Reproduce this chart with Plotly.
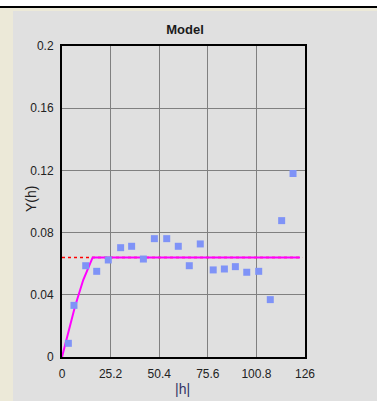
import plotly.graph_objects as go

# Empirical semivariogram: lag distance |h| and semivariance Y(h)
lag_h = [3.3, 6.2, 12.3, 18.0, 24.0, 30.4, 36.1, 42.2, 47.9, 54.3, 60.3,
         66.0, 71.7, 78.4, 84.2, 89.9, 95.8, 102.0, 108.0, 113.9, 119.8]
gamma = [0.0088, 0.0332, 0.0587, 0.0551, 0.0624, 0.0703, 0.0712, 0.0630,
         0.0761, 0.0761, 0.0712, 0.0587, 0.0727, 0.0560, 0.0566, 0.0581,
         0.0545, 0.0551, 0.0369, 0.0877, 0.1180]

# Fitted model curve
model_h = [0, 3.3, 6.7, 11.0, 15.9, 123.4]
model_y = [0, 0.0152, 0.0323, 0.0495, 0.0640, 0.0640]

# Sill reference
sill = 0.064
sill_h = [0, 124.5]

x_ticks = [0, 25.2, 50.4, 75.6, 100.8, 126]
x_tick_text = ["0", "25.2", "50.4", "75.6", "100.8", "126"]
y_ticks = [0, 0.04, 0.08, 0.12, 0.16, 0.2]
y_tick_text = ["0", "0.04", "0.08", "0.12", "0.16", "0.2"]

W, H = 377, 401
L, R, T, B = 62, 305, 46, 357
PW, PH = R - L, B - T


def px(x):
    return (x - L) / PW


def py(y):
    return (B - y) / PH


fig = go.Figure()

fig.add_trace(go.Scatter(
    x=sill_h, y=[sill, sill], mode="lines",
    line=dict(color="#ff0000", width=1.5, dash="3px,3px"),
    hoverinfo="skip", showlegend=False, cliponaxis=False,
))
fig.add_trace(go.Scatter(
    x=model_h, y=model_y, mode="lines",
    line=dict(color="#ff00ff", width=2),
    showlegend=False, cliponaxis=False,
))
fig.add_trace(go.Scatter(
    x=lag_h, y=gamma, mode="markers",
    marker=dict(symbol="square", size=7, color="#7f93f7"),
    showlegend=False,
))

shapes = [
    # light beige frame strip on the left and top
    dict(type="rect", xref="paper", yref="paper",
         x0=px(0), x1=px(W), y0=py(H), y1=py(8), fillcolor="#ece9d8",
         line_width=0, layer="below"),
    dict(type="rect", xref="paper", yref="paper",
         x0=px(13), x1=px(W), y0=py(H), y1=py(11), fillcolor="#e0e0e0",
         line_width=0, layer="below"),
    # white band and black rule across the top
    dict(type="rect", xref="paper", yref="paper",
         x0=px(0), x1=px(W), y0=py(6), y1=py(0), fillcolor="#ffffff",
         line_width=0, layer="below"),
    dict(type="rect", xref="paper", yref="paper",
         x0=px(0), x1=px(W), y0=py(8), y1=py(6), fillcolor="#000000",
         line_width=0, layer="below"),
]

font = "Liberation Sans, Arial, sans-serif"

annotations = [
    dict(text="Y(h)", xref="paper", yref="paper", x=px(31), y=py(199),
         xanchor="center", yanchor="middle", textangle=-90, showarrow=False,
         font=dict(family=font, size=14, color="#222222")),
    dict(text="|h|", xref="paper", yref="paper", x=px(182), y=py(389),
         xanchor="center", yanchor="middle", showarrow=False,
         font=dict(family=font, size=14, color="#333366")),
]

fig.update_layout(
    width=W, height=H,
    margin=dict(l=L, r=W - R, t=T, b=H - B, pad=0, autoexpand=False),
    paper_bgcolor="#e0e0e0",
    plot_bgcolor="#e0e0e0",
    shapes=shapes,
    annotations=annotations,
    font=dict(family=font, size=12, color="#222222"),
    title=dict(text="<b>Model</b>", x=px(185), xanchor="center",
               xref="paper", y=1 - 29 / H, yanchor="middle",
               font=dict(family=font, size=13, color="#1a1a1a")),
    xaxis=dict(
        range=[0, 126], tickmode="array", tickvals=x_ticks,
        ticktext=x_tick_text, showgrid=True, gridcolor="#808080",
        gridwidth=1, showline=True, linecolor="#000000", linewidth=2,
        mirror=True, zeroline=False, ticks="", ticklabelstandoff=5,
        automargin=False,
    ),
    yaxis=dict(
        range=[0, 0.2], tickmode="array", tickvals=y_ticks,
        ticktext=y_tick_text, showgrid=True, gridcolor="#808080",
        gridwidth=1, showline=True, linecolor="#000000", linewidth=2,
        mirror=True, zeroline=False, ticks="", ticklabelstandoff=4,
        automargin=False,
    ),
)

fig.write_html("out.html")
